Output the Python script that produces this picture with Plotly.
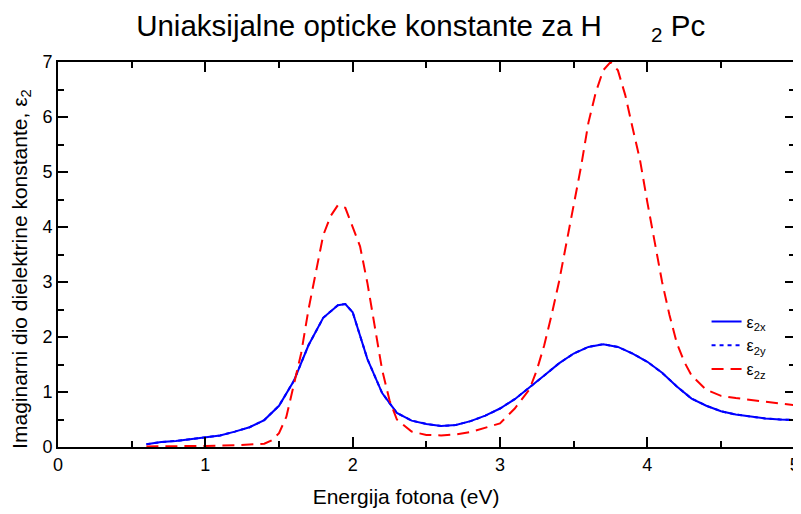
import plotly.graph_objects as go

x_blue = [0.6, 0.7, 0.8, 0.9, 1.0, 1.1, 1.2, 1.3, 1.4, 1.5, 1.6, 1.7, 1.8, 1.9, 1.95, 2.0, 2.1, 2.2, 2.3, 2.4, 2.5,
          2.6, 2.7, 2.8, 2.9, 3.0, 3.1, 3.2, 3.3, 3.4, 3.5, 3.6, 3.7, 3.8, 3.9, 4.0, 4.1, 4.2, 4.3, 4.4, 4.5,
          4.6, 4.7, 4.8, 4.9, 5.0]
eps2x = [0.05, 0.09, 0.11, 0.14, 0.17, 0.21, 0.28, 0.36, 0.49, 0.75, 1.2, 1.85, 2.35, 2.58, 2.6, 2.45, 1.6, 0.98,
         0.62, 0.48, 0.42, 0.38, 0.4, 0.47, 0.57, 0.7, 0.87, 1.08, 1.3, 1.52, 1.7, 1.82, 1.87, 1.82, 1.7, 1.55,
         1.35, 1.1, 0.88, 0.75, 0.65, 0.59, 0.55, 0.52, 0.5, 0.49]
eps2y = eps2x

x_red = [0.6, 0.8, 1.0, 1.2, 1.3, 1.4, 1.45, 1.5, 1.55, 1.6, 1.65, 1.7, 1.75, 1.8, 1.85, 1.9, 1.95, 2.0, 2.05,
         2.1, 2.15, 2.2, 2.25, 2.3, 2.4, 2.5, 2.6, 2.7, 2.8, 2.9, 3.0, 3.1, 3.2, 3.25, 3.3, 3.35, 3.4, 3.45,
         3.5, 3.55, 3.6, 3.65, 3.7, 3.75, 3.8, 3.85, 3.9, 3.95, 4.0, 4.05, 4.1, 4.15, 4.2, 4.25, 4.3, 4.4,
         4.5, 4.6, 4.7, 4.8, 4.9, 5.0]
eps2z = [0.01, 0.01, 0.02, 0.03, 0.04, 0.06, 0.12, 0.25, 0.55, 1.1, 1.7, 2.5, 3.2, 3.85, 4.2, 4.4, 4.35, 4.0,
         3.65, 2.98, 2.15, 1.4, 0.85, 0.5, 0.28, 0.22, 0.21, 0.23, 0.27, 0.35, 0.43, 0.7, 1.05, 1.4, 1.85,
         2.4, 3.0, 3.7, 4.4, 5.1, 5.9, 6.45, 6.85, 7.0, 6.85, 6.4, 5.8, 5.22, 4.45, 3.7, 3.0, 2.4, 1.89,
         1.55, 1.3, 1.04, 0.93, 0.89, 0.86, 0.83, 0.8, 0.76]

x_ticks = [0, 1, 2, 3, 4, 5]
y_ticks = [0, 1, 2, 3, 4, 5, 6, 7]

font_family = "Liberation Sans, Arial, sans-serif"

fig = go.Figure()
fig.add_trace(go.Scatter(x=x_blue, y=eps2x, mode="lines", name="ε<sub>2x</sub>",
                         line=dict(color="#0000ff", width=2)))
fig.add_trace(go.Scatter(x=x_blue, y=eps2y, mode="lines", name="ε<sub>2y</sub>",
                         line=dict(color="#0000ff", width=2, dash="4px,4px")))
fig.add_trace(go.Scatter(x=x_red, y=eps2z, mode="lines", name="ε<sub>2z</sub>",
                         line=dict(color="#ff0000", width=2, dash="12px,7px")))

axis_common = dict(showline=True, linecolor="black", linewidth=2, mirror="ticks",
                   ticks="inside", ticklen=10, tickwidth=1.5, tickcolor="black",
                   showgrid=False, zeroline=False, automargin=False,
                   tickfont=dict(family=font_family, size=18, color="black"),
                   minor=dict(ticks="inside", ticklen=6, tickwidth=1.5, tickcolor="black", dtick=0.5))

title_text = "Uniaksijalne opticke konstante za H" + "&nbsp;" * 6 + "<sub>2</sub> Pc"
xtitle_text = "Energija fotona (eV)" + "&nbsp;" * 7
ytitle_text = "Imaginarni dio dielektrine konstante, ε<sub>2</sub>" + "&nbsp;" * 5

fig.update_layout(
    width=801, height=514,
    margin=dict(l=50, r=14, t=54, b=75),
    paper_bgcolor="white", plot_bgcolor="white",
    title=dict(text=title_text,
               x=0.16, xanchor="left", y=0.966, yanchor="middle",
               font=dict(family=font_family, size=29.5, color="black")),
    xaxis=dict(range=[0, 5.002], tickvals=x_ticks,
               title=dict(text=xtitle_text, font=dict(family=font_family, size=21, color="black"),
                          standoff=16),
               **axis_common),
    yaxis=dict(range=[0, 7.002], tickvals=y_ticks,
               title=dict(text=ytitle_text,
                          font=dict(family=font_family, size=21, color="black"), standoff=11),
               **axis_common),
    legend=dict(x=0.88, y=0.37, xanchor="left", yanchor="top",
                bgcolor="rgba(0,0,0,0)", traceorder="normal",
                font=dict(family=font_family, size=16, color="black"),
                itemwidth=30, tracegroupgap=0),
    showlegend=True,
)

fig.write_html("out.html")
